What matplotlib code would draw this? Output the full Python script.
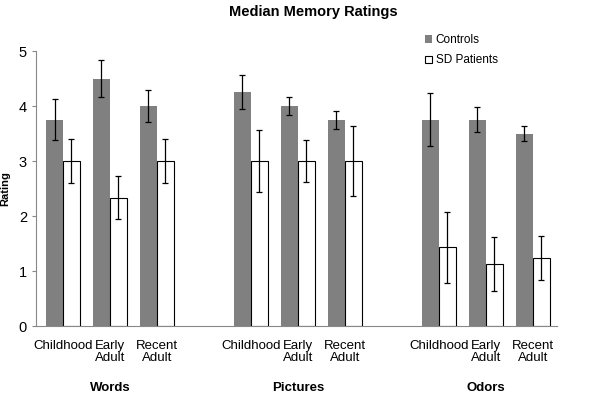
import numpy as np
import matplotlib
matplotlib.use('Agg')
import matplotlib.pyplot as plt

plt.rcParams['font.family'] = ['Liberation Sans', 'DejaVu Sans']

# data
groups = ['Words', 'Pictures', 'Odors']
periods = ['Childhood', 'Early\nAdult', 'Recent\nAdult']
controls = [3.75, 4.5, 4.0, 4.25, 4.0, 3.75, 3.75, 3.75, 3.5]
controls_err = [0.37, 0.33, 0.29, 0.31, 0.16, 0.16, 0.48, 0.23, 0.13]
patients = [3.0, 2.33, 3.0, 3.0, 3.0, 3.0, 1.43, 1.12, 1.24]
patients_err = [0.4, 0.39, 0.4, 0.56, 0.39, 0.64, 0.64, 0.49, 0.4]

# one empty slot between the groups
pos = np.array([0, 1, 2, 4, 5, 6, 8, 9, 10])
w = 0.36

fig = plt.figure(figsize=(6.02, 4.05), dpi=100)
ax = fig.add_axes([0.0598, 0.195, 0.865, 0.679])

ax.bar(pos - w/2, controls, w, color='#808080', label='Controls',
       yerr=controls_err, capsize=2, error_kw=dict(elinewidth=0.9, capthick=0.9, ecolor='black'))
ax.bar(pos + w/2, patients, w, color='white', edgecolor='black', linewidth=0.8,
       label='SD Patients',
       yerr=patients_err, capsize=2, error_kw=dict(elinewidth=0.9, capthick=0.9, ecolor='black'))

ax.set_xlim(-0.574, 10.51)
ax.set_ylim(0, 5)
ax.set_yticks(range(6))
ax.tick_params(axis='y', labelsize=10.5, length=3, color='#888888')
ax.set_xticks(pos)
ax.set_xticklabels(periods * 3, fontsize=9.5, linespacing=1.05)
ax.tick_params(axis='x', length=0, pad=10)
for s in ['top', 'right']:
    ax.spines[s].set_visible(False)
ax.spines['left'].set_color('#888888')
ax.spines['bottom'].set_color('#888888')

ax.set_ylabel('Rating', fontsize=8, fontweight='bold')
ax.yaxis.set_label_coords(-0.05, 0.5)

for i, g in enumerate(groups):
    ax.text(4*i + 1, -1.12, g, ha='center', va='center', fontsize=9.5,
            fontweight='bold')

fig.text(0.52, 0.97, 'Median Memory Ratings', ha='center', va='center',
         fontsize=10.5, fontweight='bold')

ax.legend(loc='upper left', bbox_to_anchor=(0.727, 1.1), frameon=False,
          fontsize=8.5, handlelength=0.6, handleheight=0.6, handletextpad=0.3,
          labelspacing=0.7)

fig.savefig('out.png', dpi=100)
